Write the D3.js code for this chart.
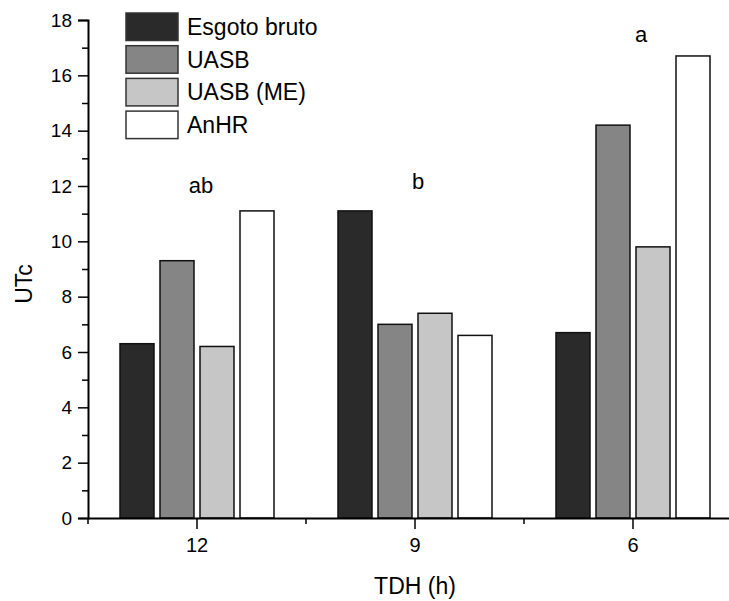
<!DOCTYPE html>
<html>
<head>
<meta charset="utf-8">
<script src="https://cdn.jsdelivr.net/npm/d3@7"></script>
<style>
  html, body { margin: 0; padding: 0; background: #fff; }
  svg { display: block; font-family: "Liberation Sans", Arial, sans-serif; }
</style>
</head>
<body>
<svg id="chart" width="729" height="601"></svg>
<script>
// Hydraulic retention time groups (TDH) and the four sample sources
const categories = ["12", "9", "6"];
const seriesNames = ["Esgoto bruto", "UASB", "UASB (ME)", "AnHR"];
const seriesColors = ["#2a2a2a", "#858585", "#c6c6c6", "#ffffff"];

// UTc values per source, one entry per TDH group
const esgotoBruto = [6.3, 11.1, 6.7];
const uasb = [9.3, 7.0, 14.2];
const uasbME = [6.2, 7.4, 9.8];
const anhr = [11.1, 6.6, 16.7];

// Statistical grouping letters above each TDH group
const groupLetters = ["ab", "b", "a"];
const letterLevels = [11.75, 11.9, 17.2];

const yMajorTicks = [0, 2, 4, 6, 8, 10, 12, 14, 16, 18];
const yMinorTicks = [1, 3, 5, 7, 9, 11, 13, 15, 17];

const seriesValues = [esgotoBruto, uasb, uasbME, anhr];
const rows = [];
categories.forEach((c, ci) => {
  seriesNames.forEach((s, si) => {
    rows.push({ category: c, series: s, value: seriesValues[si][ci], color: seriesColors[si] });
  });
});

const svg = d3.select("#chart");
const plotLeft = 88, plotBottom = 518, plotTop = 20;
const step = 218;

const x = d3.scaleBand().domain(categories).range([plotLeft, plotLeft + step * categories.length]).padding(0);
const xInner = d3.scaleBand().domain(seriesNames).range([-77, 77]).paddingInner(0.15).paddingOuter(0);
const y = d3.scaleLinear().domain([0, 18]).range([plotBottom, plotTop]);

// Bars
svg.append("g").selectAll("rect")
  .data(rows)
  .join("rect")
  .attr("x", d => x(d.category) + x.bandwidth() / 2 + xInner(d.series))
  .attr("y", d => y(d.value))
  .attr("width", xInner.bandwidth())
  .attr("height", d => y(0) - y(d.value))
  .attr("fill", d => d.color)
  .attr("stroke", "#111")
  .attr("stroke-width", 1.5);

// Y axis: labelled major ticks, unlabelled minor ticks
const yAxis = svg.append("g").attr("transform", `translate(${plotLeft},0)`);
yAxis.call(d3.axisLeft(y).tickValues(yMajorTicks).tickSize(10).tickPadding(6).tickFormat(d3.format("d")));
yAxis.append("g").call(d3.axisLeft(y).tickValues(yMinorTicks).tickSize(6).tickFormat(""))
  .select(".domain").remove();
yAxis.selectAll(".domain").attr("stroke", "#000").attr("stroke-width", 2);
yAxis.selectAll(".tick line").attr("stroke", "#000").attr("stroke-width", 1.5);
yAxis.selectAll(".tick text").attr("font-size", 19).attr("fill", "#000")
  .attr("font-family", "'Liberation Sans', Arial, sans-serif");

// X axis: major ticks at group centres, minor ticks at group boundaries
const xAxis = svg.append("g").attr("transform", `translate(0,${plotBottom})`);
xAxis.call(d3.axisBottom(x).tickSize(11).tickPadding(9).tickSizeOuter(0));
const boundaries = d3.range(categories.length + 1).map(i => plotLeft + i * step);
xAxis.selectAll(".minor")
  .data(boundaries)
  .join("line")
  .attr("class", "minor")
  .attr("x1", d => d).attr("x2", d => d)
  .attr("y1", 0).attr("y2", 6)
  .attr("stroke", "#000").attr("stroke-width", 1.5);
xAxis.selectAll(".domain").attr("stroke", "#000").attr("stroke-width", 2);
xAxis.selectAll(".tick line").attr("stroke", "#000").attr("stroke-width", 1.5);
xAxis.selectAll(".tick text").attr("font-size", 20).attr("fill", "#000")
  .attr("font-family", "'Liberation Sans', Arial, sans-serif");

// Grouping letters
const letterShift = [4, 3, 8];
svg.append("g").selectAll("text")
  .data(groupLetters)
  .join("text")
  .attr("x", (d, i) => x(categories[i]) + x.bandwidth() / 2 + letterShift[i])
  .attr("y", (d, i) => y(letterLevels[i]))
  .attr("text-anchor", "middle")
  .attr("font-size", 22)
  .attr("fill", "#000")
  .text(d => d);

// Axis titles
svg.append("text")
  .attr("x", 415).attr("y", 594)
  .attr("text-anchor", "middle")
  .attr("font-size", 23)
  .attr("fill", "#000")
  .text("TDH (h)");

svg.append("text")
  .attr("transform", "translate(32,284) rotate(-90)")
  .attr("text-anchor", "middle")
  .attr("font-size", 23)
  .attr("fill", "#000")
  .text("UTc");

// Legend
const legend = svg.append("g").attr("transform", "translate(126,13)");
const item = legend.selectAll("g")
  .data(seriesNames)
  .join("g")
  .attr("transform", (d, i) => `translate(0,${i * 32.7})`);
item.append("rect")
  .attr("width", 52).attr("height", 27.5)
  .attr("fill", (d, i) => seriesColors[i])
  .attr("stroke", "#333").attr("stroke-width", 1.5);
item.append("text")
  .attr("x", 61).attr("y", 22)
  .attr("font-size", 23)
  .attr("fill", "#000")
  .text(d => d);
</script>
</body>
</html>
